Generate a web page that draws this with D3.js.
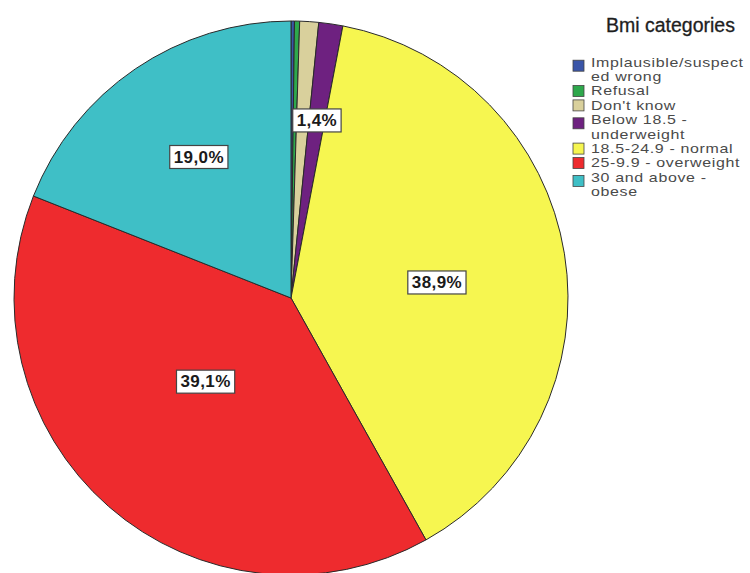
<!DOCTYPE html>
<html>
<head>
<meta charset="utf-8">
<script src="https://cdn.jsdelivr.net/npm/d3@7"></script>
<style>
html, body { margin: 0; padding: 0; background: #ffffff; }
svg { display: block; }
</style>
</head>
<body>
<svg id="chart" width="750" height="573"></svg>
<script>
// ---- data ----
const categories = [
  "Implausible/suspected wrong",
  "Refusal",
  "Don't know",
  "Below 18.5 - underweight",
  "18.5-24.9 - normal",
  "25-9.9 - overweight",
  "30 and above - obese"
];
const values = [0.2, 0.3, 1.1, 1.4, 38.9, 39.1, 19.0];
const legendLines = [
  ["Implausible/suspect", "ed wrong"],
  ["Refusal"],
  ["Don't know"],
  ["Below 18.5 -", "underweight"],
  ["18.5-24.9 - normal"],
  ["25-9.9 - overweight"],
  ["30 and above -", "obese"]
];
const legendTitle = "Bmi categories";

// ---- style / layout ----
const colors = ["#3a55a8", "#2ea84c", "#d9d09c", "#6e2180", "#f6f650", "#ee2b2e", "#3fbfc6"];
const labelRadiusFrac = [0, 0, 0, 0.65, 0.53, 0.43, 0.61];
const labelAngleShift = [0, 0, 0, 0, 0.05, 0.08, 0.02];
const minLabelValue = 1.4;

const svg = d3.select("#chart");
const cx = 291, cy = 298, R = 277;

const pie = d3.pie().sort(null).value(d => d.value);
const data = categories.map((c, i) => ({ cat: c, value: values[i], i }));
const arcs = pie(data);
const arc = d3.arc().innerRadius(0).outerRadius(R);

const g = svg.append("g").attr("transform", `translate(${cx},${cy})`);
g.selectAll("path.slice")
  .data(arcs)
  .enter().append("path")
  .attr("class", "slice")
  .attr("d", arc)
  .attr("fill", d => colors[d.data.i])
  .attr("stroke", "#2a2a2a")
  .attr("stroke-width", 1)
  .attr("stroke-linejoin", "round");

const fmt = v => d3.format(".1f")(v).replace(".", ",") + "%";

const labels = g.selectAll("g.lab")
  .data(arcs.filter(d => d.data.value >= minLabelValue))
  .enter().append("g")
  .attr("class", "lab")
  .attr("transform", d => {
    const r = R * labelRadiusFrac[d.data.i];
    const a = (d.startAngle + d.endAngle) / 2 + labelAngleShift[d.data.i];
    const x = r * Math.sin(a), y = -r * Math.cos(a);
    return `translate(${x},${y})`;
  });

labels.append("text")
  .attr("text-anchor", "middle")
  .attr("dy", "0.36em")
  .attr("font-family", "Liberation Sans, Arial, sans-serif")
  .attr("font-weight", "bold")
  .attr("font-size", 17)
  .attr("letter-spacing", 0.4)
  .attr("fill", "#1a1a1a")
  .text(d => fmt(d.data.value));

labels.each(function () {
  const t = d3.select(this).select("text");
  const b = t.node().getBBox();
  d3.select(this).insert("rect", "text")
    .attr("x", b.x - 4)
    .attr("y", b.y - 2)
    .attr("width", b.width + 8)
    .attr("height", b.height + 4)
    .attr("fill", "#ffffff")
    .attr("stroke", "#444")
    .attr("stroke-width", 1.2);
});

// ---- legend ----
const lg = svg.append("g");
lg.append("text")
  .attr("x", 606)
  .attr("y", 32)
  .attr("font-family", "Liberation Sans, Arial, sans-serif")
  .attr("font-size", 19.5)
  .attr("fill", "#1e1e1e")
  .attr("stroke", "#1e1e1e")
  .attr("stroke-width", 0.3)
  .text(legendTitle);

const lineH = 14.4;
let yTop = 55;
legendLines.forEach((lines, i) => {
  const n = lines.length;
  const swC = yTop + lineH / 2 + (n - 1) * 3.5;
  lg.append("rect")
    .attr("x", 573)
    .attr("y", swC - 5.5)
    .attr("width", 11)
    .attr("height", 11)
    .attr("fill", colors[i])
    .attr("stroke", "#444")
    .attr("stroke-width", 0.8);
  lines.forEach((ln, j) => {
    lg.append("text")
      .attr("transform", `translate(591,${yTop + lineH * j + lineH / 2}) scale(1.3,1)`)
      .attr("dy", "0.36em")
      .attr("font-family", "Liberation Sans, Arial, sans-serif")
      .attr("font-size", 12.3)
      .attr("letter-spacing", 0.5)
      .attr("fill", "#4a4a4a")
      .text(ln);
  });
  yTop += n * lineH;
});
</script>
</body>
</html>
